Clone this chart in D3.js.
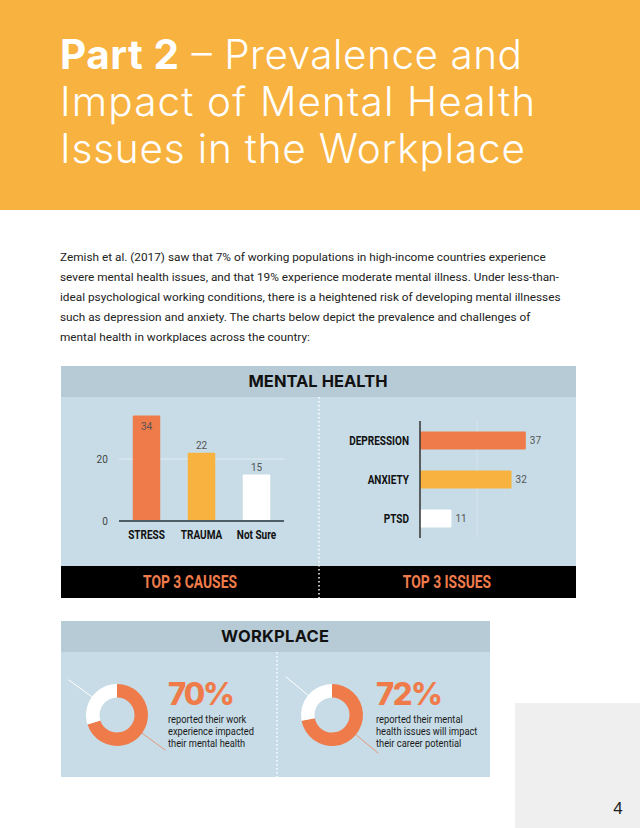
<!DOCTYPE html>
<html>
<head>
<meta charset="utf-8">
<script src="https://cdn.jsdelivr.net/npm/d3@7"></script>
<style>
  html, body { margin: 0; padding: 0; background: #fff; }
  svg { display: block; }
</style>
</head>
<body>
<svg id="chart" width="640" height="828"></svg>
<script>
// ---------- data ----------
const titleLines = [["Part 2", " – Prevalence and"], ["", "Impact of Mental Health"], ["", "Issues in the Workplace"]];
const paragraphLines = [
  "Zemish et al. (2017) saw that 7% of working populations in high-income countries experience",
  "severe mental health issues, and that 19% experience moderate mental illness. Under less-than-",
  "ideal psychological working conditions, there is a heightened risk of developing mental illnesses",
  "such as depression and anxiety. The charts below depict the prevalence and challenges of",
  "mental health in workplaces across the country:"
];
const causes = ["STRESS", "TRAUMA", "Not Sure"];
const causeValues = [34, 22, 15];
const causeTicks = [0, 20];
const issues = ["DEPRESSION", "ANXIETY", "PTSD"];
const issueValues = [37, 32, 11];
const issueGrid = [20];
const footerLabels = ["TOP 3 CAUSES", "TOP 3 ISSUES"];
const workplacePercents = [70, 72];
const workplaceTexts = [
  ["reported their work", "experience impacted", "their mental health"],
  ["reported their mental", "health issues will impact", "their career potential"]
];
const pageNumber = "4";

// ---------- styles ----------
const ORANGE = "#F8B23F", CORAL = "#EF7B4B", PANEL = "#C7DCE6", BAND = "#B7CBD6";
const barColors = [CORAL, ORANGE, "#FFFFFF"];
const COND = "Roboto, 'Noto Sans', sans-serif";

const svg = d3.select("#chart");

function condense(sel, f) {
  sel.each(function () {
    const l = this.getComputedTextLength();
    d3.select(this).attr("textLength", l * f).attr("lengthAdjust", "spacingAndGlyphs");
  });
}

// ---------- header ----------
svg.append("rect").attr("x", 0).attr("y", 0).attr("width", 640).attr("height", 210).attr("fill", ORANGE);
const titleBase = [69, 116, 163];
const titleWidths = [462, 475, 465];
titleLines.forEach((ln, i) => {
  const t = svg.append("text").attr("x", 60).attr("y", titleBase[i])
    .attr("fill", "#fff").style("font-family", "Inter, Lato, sans-serif").style("font-size", "40.5px");
  if (ln[0]) t.append("tspan").style("font-weight", 700).text(ln[0]);
  t.append("tspan").style("font-weight", 300).text(ln[1]);
  t.attr("textLength", titleWidths[i]).attr("lengthAdjust", "spacing");
});

// ---------- paragraph ----------
svg.append("g").selectAll("text").data(paragraphLines).join("text")
  .attr("x", 60).attr("y", (d, i) => 261 + i * 20)
  .attr("fill", "#222").style("font-family", "Roboto, sans-serif").style("font-size", "11.8px")
  .text(d => d);

// ---------- mental health panel ----------
const p1 = { x: 61, y: 366, w: 515, band: 31, body: 169, foot: 32 };
svg.append("rect").attr("x", p1.x).attr("y", p1.y).attr("width", p1.w).attr("height", p1.band).attr("fill", BAND);
svg.append("rect").attr("x", p1.x).attr("y", p1.y + p1.band).attr("width", p1.w).attr("height", p1.body).attr("fill", PANEL);
svg.append("rect").attr("x", p1.x).attr("y", p1.y + p1.band + p1.body).attr("width", p1.w).attr("height", p1.foot).attr("fill", "#000");
svg.append("text").attr("x", 318).attr("y", 386.5).attr("text-anchor", "middle")
  .style("font-family", "Inter, sans-serif").style("font-weight", 700).style("font-size", "16.5px")
  .attr("fill", "#111").attr("textLength", 139).attr("lengthAdjust", "spacing").text("MENTAL HEALTH");
svg.append("line").attr("x1", 319).attr("x2", 319).attr("y1", 397).attr("y2", 598)
  .attr("stroke", "#fff").attr("stroke-width", 1.5).attr("stroke-dasharray", "1.5,2.5");

// vertical bar chart
const xb = d3.scaleBand().domain(causes).range([119, 284]).paddingInner(0.5).paddingOuter(0.25);
const yb = d3.scaleLinear().domain([0, 40]).range([521, 397]);
const gV = svg.append("g");
gV.selectAll("line.grid").data(causeTicks.filter(d => d > 0)).join("line")
  .attr("x1", 119).attr("x2", 284).attr("y1", d => yb(d)).attr("y2", d => yb(d))
  .attr("stroke", "#E3EDF2").attr("stroke-width", 1);
const yAxis = gV.append("g").attr("transform", "translate(108,0)")
  .call(d3.axisLeft(yb).tickValues(causeTicks).tickSize(0).tickPadding(0));
yAxis.select(".domain").remove();
yAxis.selectAll("text").attr("fill", "#444").style("font-family", COND).style("font-size", "11.5px");
condense(yAxis.selectAll("text"), 0.88);
gV.selectAll("rect.bar").data(causes).join("rect")
  .attr("x", d => xb(d)).attr("width", xb.bandwidth())
  .attr("y", (d, i) => yb(causeValues[i])).attr("height", (d, i) => yb(0) - yb(causeValues[i]))
  .attr("fill", (d, i) => barColors[i]).attr("rx", 1);
gV.append("line").attr("x1", 119).attr("x2", 284).attr("y1", yb(0)).attr("y2", yb(0))
  .attr("stroke", "#4E5E67").attr("stroke-width", 2);
gV.selectAll("text.val").data(causes).join("text")
  .attr("x", d => xb(d) + xb.bandwidth() / 2)
  .attr("y", (d, i) => { const t = yb(causeValues[i]); return t - 8 < 417 ? t + 14 : t - 4; })
  .attr("text-anchor", "middle").attr("fill", "#555")
  .style("font-family", COND).style("font-size", "10px").text((d, i) => causeValues[i]);
const cl = gV.selectAll("text.cat").data(causes).join("text")
  .attr("x", d => xb(d) + xb.bandwidth() / 2).attr("y", 538.5).attr("text-anchor", "middle")
  .attr("fill", "#111").style("font-family", COND).style("font-weight", 700).style("font-size", "13px")
  .text(d => d);
condense(cl, 0.77);

// horizontal bar chart
const yh = d3.scaleBand().domain(issues).range([421, 538]).paddingInner(0.54).paddingOuter(0.27);
const xh = d3.scaleLinear().domain([0, 40]).range([420, 534.4]);
const gH = svg.append("g");
gH.selectAll("line.grid").data(issueGrid).join("line")
  .attr("x1", d => xh(d)).attr("x2", d => xh(d)).attr("y1", 421).attr("y2", 538)
  .attr("stroke", "#D6E5EC").attr("stroke-width", 1);
gH.selectAll("rect").data(issues).join("rect")
  .attr("x", xh(0)).attr("y", d => yh(d)).attr("height", yh.bandwidth())
  .attr("width", (d, i) => xh(issueValues[i]) - xh(0)).attr("fill", (d, i) => barColors[i]).attr("rx", 1);
gH.append("line").attr("x1", 420).attr("x2", 420).attr("y1", 421).attr("y2", 538)
  .attr("stroke", "#333").attr("stroke-width", 1.5);
gH.selectAll("text.val").data(issues).join("text")
  .attr("x", (d, i) => xh(issueValues[i]) + 4).attr("y", d => yh(d) + yh.bandwidth() / 2 + 3.5)
  .attr("fill", "#555").style("font-family", COND).style("font-size", "10px").text((d, i) => issueValues[i]);
const il = gH.selectAll("text.cat").data(issues).join("text")
  .attr("x", 409).attr("y", d => yh(d) + yh.bandwidth() / 2 + 4.5).attr("text-anchor", "end")
  .attr("fill", "#111").style("font-family", COND).style("font-weight", 700).style("font-size", "13px")
  .text(d => d);
condense(il, 0.77);

// footer labels
const fl = svg.selectAll("text.foot").data(footerLabels).join("text")
  .attr("x", (d, i) => [190, 447][i]).attr("y", 588).attr("text-anchor", "middle")
  .attr("fill", CORAL).style("font-family", COND).style("font-weight", 700).style("font-size", "18px")
  .text(d => d);
condense(fl, 0.77);

// ---------- workplace panel ----------
svg.append("rect").attr("x", 61).attr("y", 621).attr("width", 429).attr("height", 31).attr("fill", BAND);
svg.append("rect").attr("x", 61).attr("y", 652).attr("width", 429).attr("height", 125).attr("fill", PANEL);
svg.append("text").attr("x", 275).attr("y", 641.5).attr("text-anchor", "middle")
  .style("font-family", "Inter, sans-serif").style("font-weight", 700).style("font-size", "16.5px")
  .attr("fill", "#111").attr("textLength", 108).attr("lengthAdjust", "spacing").text("WORKPLACE");
svg.append("line").attr("x1", 277).attr("x2", 277).attr("y1", 652).attr("y2", 777)
  .attr("stroke", "#fff").attr("stroke-width", 1.5).attr("stroke-dasharray", "1.5,2.5");

const donutCx = [117, 332], donutCy = 715;
const textX = [168, 376];
const pie = d3.pie().sort(null).value(d => d);
const arc = d3.arc().innerRadius(17.5).outerRadius(31);
workplacePercents.forEach((p, k) => {
  const g = svg.append("g").attr("transform", `translate(${donutCx[k]},${donutCy})`);
  const arcs = pie([p, 100 - p]);
  g.selectAll("path").data(arcs).join("path").attr("d", arc).attr("fill", (d, i) => i === 0 ? CORAL : "#fff");
  g.selectAll("line").data(arcs).join("line")
    .attr("x1", d => 31 * Math.sin((d.startAngle + d.endAngle) / 2))
    .attr("y1", d => -31 * Math.cos((d.startAngle + d.endAngle) / 2))
    .attr("x2", d => 60 * Math.sin((d.startAngle + d.endAngle) / 2))
    .attr("y2", d => -60 * Math.cos((d.startAngle + d.endAngle) / 2))
    .attr("stroke", (d, i) => i === 0 ? "#E49A7C" : "#fff").attr("stroke-width", 1);
  svg.append("text").attr("x", textX[k]).attr("y", 705).attr("fill", CORAL)
    .style("font-family", "Inter, sans-serif").style("font-weight", 800).style("font-size", "31px")
    .attr("textLength", 67).attr("lengthAdjust", "spacing").text(p + "%");
  const dl = svg.append("g").selectAll("text").data(workplaceTexts[k]).join("text")
    .attr("x", textX[k]).attr("y", (d, i) => 722.5 + i * 12).attr("fill", "#1a1a1a")
    .style("font-family", COND).style("font-size", "10.8px").text(d => d);
  condense(dl, 0.86);
});

// ---------- page number ----------
svg.append("rect").attr("x", 515).attr("y", 703).attr("width", 125).attr("height", 125).attr("fill", "#EFEFEF");
svg.append("text").attr("x", 618).attr("y", 814).attr("text-anchor", "middle").attr("fill", "#222")
  .style("font-family", "'Liberation Sans', Arial, sans-serif").style("font-size", "17px").text(pageNumber);
</script>
</body>
</html>
